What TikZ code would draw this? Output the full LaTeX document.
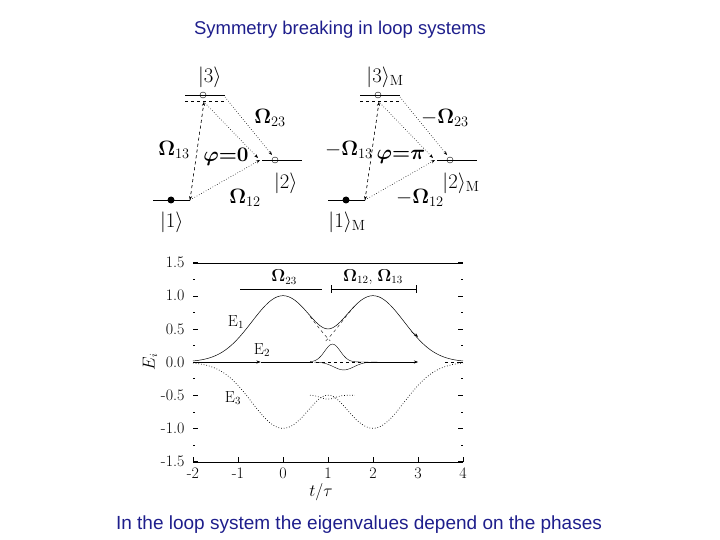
\documentclass[tikz,border=0pt]{standalone}
\usepackage{fontspec}
\newfontfamily\ls{Liberation Sans}
\usetikzlibrary{arrows.meta}
\definecolor{navy}{RGB}{30,30,140}
\newcommand{\Om}{\boldsymbol{\Omega}}
\usepackage{amsmath}
\begin{document}
\begin{tikzpicture}[x=1pt,y=-1pt,
  lvl/.style={line width=0.6pt},
  lab/.style={font=\fontsize{21}{23}\selectfont},
  dl/.style={dotted,line width=0.6pt},
  tk/.style={line width=0.4pt},
  nl/.style={font=\fontsize{16}{18}\selectfont}]
\useasboundingbox (0,0) rectangle (720,540);
\node[font=\ls\fontsize{18.5}{21}\selectfont,text=navy] (title) at (340,30) {Symmetry breaking in loop systems};
\node[font=\ls\fontsize{19}{22}\selectfont,text=navy] (foot) at (359,525) {In the loop system the eigenvalues depend on the phases};
\foreach \o/\s/\m/\p in {0//{}/0,175/M/-/\pi}{
\begin{scope}[xshift=\o pt]
\draw[lvl] (153,200) -- (190,200);
\fill (171,200) circle (3.5);
\draw[lvl] (185,95) -- (225,95);
\draw (203,95) circle (3);
\draw[dashed] (185,101) -- (225,101);
\draw[lvl] (262,160) -- (302,160);
\draw (275,160) circle (3);
\draw[dashed,-{Stealth[length=4pt]}] (190,200) -- (204,102);
\draw[dashed,-{Stealth[length=4pt]}] (204,102) -- (190,200);
\draw[dl,-{Stealth[length=4pt]}] (190,200) -- (260,160);
\draw[dl,-{Stealth[length=4pt]}] (205,103) -- (258,158);
\draw[dl,-{Stealth[length=4pt]}] (225,97) -- (272,155);
\node[lab] (l3) at (210,77) {$\vert 3\rangle_{\mathrm{\s}}$};
\node[lab] (o23) at (270,118) {$\m\Om_{23}$};
\node[lab] (o13) at (174,150) {$\m\Om_{13}$};
\node[lab] (phi) at (226,157) {$\boldsymbol{\varphi{=}\p}$};
\node[lab] (l2) at (286,183) {$\vert 2\rangle_{\mathrm{\s}}$};
\node[lab] (o12) at (245,198) {$\m\Om_{12}$};
\node[lab] (l1) at (172,222) {$\vert 1\rangle_{\mathrm{\s}}$};
\end{scope}}
\draw[line width=0.6pt] (193,263) -- (463,263);
\draw[line width=0.6pt] (193,462) -- (463,462);
\foreach \v/\t in {1.5/1.5,1/1.0,0.5/0.5,0/0.0,-0.5/-0.5,-1/-1.0,-1.5/-1.5}{
  \node[anchor=east,nl] at (188,362-66.3*\v) {\t};
  \draw[tk] (193,362-66.3*\v) -- (198,362-66.3*\v);
  \draw[tk] (458,362-66.3*\v) -- (463,362-66.3*\v);}
\foreach \v in {1.25,0.75,0.25,-0.25,-0.75,-1.25}{
  \draw[tk] (193,362-66.3*\v) -- (195,362-66.3*\v);
  \draw[tk] (461,362-66.3*\v) -- (463,362-66.3*\v);}
\foreach \t in {-2,-1,0,1,2,3,4}{
  \node[nl] at (283+45*\t,473) {\t};
  \draw[tk] (283+45*\t,462) -- (283+45*\t,457);}
\node[nl] (tx) at (321,492) {$t/\tau$};
\node[nl,rotate=90] (ey) at (150,362) {$E_i$};
\node[nl] (b23) at (284,277) {$\Om_{23}$};
\node[nl] (b12) at (373,277) {$\Om_{12}$, $\Om_{13}$};
\draw (240,289) -- (322,289);
\draw (331,289) -- (416,289);
\draw (331,285) -- (331,293); \draw (416,285) -- (416,293);
\node[nl] (e1) at (236,322) {E$_1$};
\node[nl] (e2) at (262,350) {E$_2$};
\node[nl] (e3) at (233,398) {E$_3$};
\begin{scope}[xshift=283pt,yshift=-362pt,x=45pt,y=66.3pt]
\draw[line width=0.5pt,samples=120,domain=-2:4] plot (\x,{sqrt(exp(-2*\x*\x/0.96)+exp(-2*(\x-2)*(\x-2)/0.96))});
\draw[dashed,samples=30,domain=0.6:1.05] plot (\x,{exp(-\x*\x/0.96)});
\draw[dashed,samples=30,domain=0.95:1.6] plot (\x,{exp(-(\x-2)*(\x-2)/0.96)});
\draw[dotted,line width=0.7pt,samples=120,domain=-2:4] plot (\x,{-sqrt(exp(-2*\x*\x/0.96)+exp(-2*(\x-2)*(\x-2)/0.96))});
\draw[dotted,line width=0.7pt,samples=30,domain=0.6:1.6] plot (\x,{-0.5-0.06*exp(-(\x-1)*(\x-1)/0.05)});
\draw[-{Stealth[length=4pt]}] (-2,0) -- (-0.5,0);
\draw (-0.5,0) -- (0.6,0);
\draw[dashed] (0.6,0) -- (1.8,0);
\draw[-{Stealth[length=4pt]}] (1.8,0) -- (3,0);
\draw[dashed] (3.6,0) -- (4,0);
\draw[samples=40,domain=0.6:1.9] plot (\x,{0.27*exp(-(\x-1.1)*(\x-1.1)/0.06)});
\draw[samples=40,domain=0.7:2.1] plot (\x,{-0.12*exp(-(\x-1.35)*(\x-1.35)/0.1)});
\draw[-{Stealth[length=4pt]}] (2.85,0.46) -- (3.0,0.38);
\end{scope}
\end{tikzpicture}
\end{document}
